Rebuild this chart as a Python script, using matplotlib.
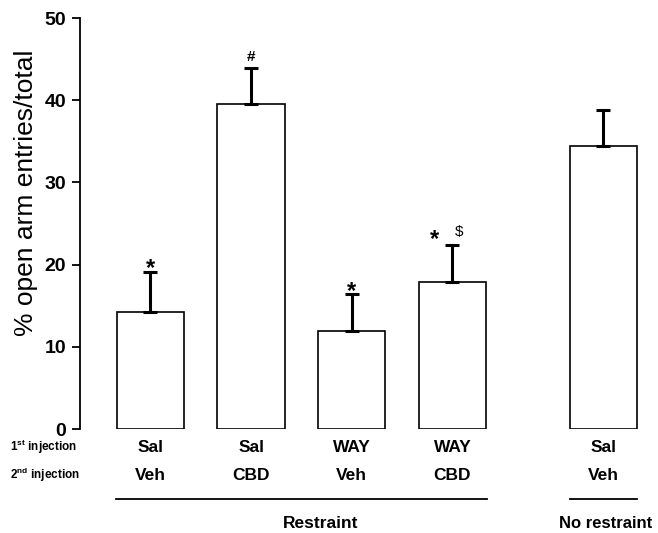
import numpy as np
from matplotlib import pyplot as plt
from matplotlib import transforms

plt.rcParams['font.family'] = ['Liberation Sans', 'DejaVu Sans']
plt.rcParams['mathtext.fontset'] = 'custom'
plt.rcParams['mathtext.rm'] = 'Liberation Sans'
plt.rcParams['mathtext.bf'] = 'Liberation Sans:bold'

# data
first_inj = ['Sal', 'Sal', 'WAY', 'WAY', 'Sal']
second_inj = ['Veh', 'CBD', 'Veh', 'CBD', 'Veh']
means = [14.2, 39.5, 11.9, 17.9, 34.5]
sem = [4.9, 4.4, 4.5, 4.5, 4.3]
marks = ['*', '#', '*', '*$', '']
positions = [0, 1, 2, 3, 4.5]

fig = plt.figure(figsize=(6.58, 5.33), dpi=100)
ax = fig.add_axes([0.1216, 0.195, 0.878, 0.771])

ax.bar(positions, means, width=0.67, color='white', edgecolor='black', linewidth=1.2)
ax.errorbar(positions, means, yerr=[np.zeros(len(sem)), sem], fmt='none',
            ecolor='black', elinewidth=2.2, capsize=4.7, capthick=2.2)

for x, m, s, mk in zip(positions, means, sem, marks):
    top = m + s
    if mk == '*':
        ax.annotate('*', (x, top), xytext=(0, -6), textcoords='offset points',
                    ha='center', va='bottom', fontsize=17, fontweight='bold')
    elif mk == '*$':
        ax.annotate('*', (x, top), xytext=(-13, -4), textcoords='offset points',
                    ha='center', va='bottom', fontsize=17, fontweight='bold')
        ax.annotate('$', (x, top), xytext=(5, 4), textcoords='offset points',
                    ha='center', va='bottom', fontsize=11)
    elif mk == '#':
        ax.annotate('#', (x, top), xytext=(0, 3), textcoords='offset points',
                    ha='center', va='bottom', fontsize=11, fontweight='bold')

ax.set_xlim(-0.70, 5.04)
ax.set_ylim(0, 50)
ax.set_yticks([0, 10, 20, 30, 40, 50])
for lab in ax.get_yticklabels():
    lab.set_fontweight('bold')
ax.tick_params(axis='y', labelsize=14, length=6, width=1.3, direction='out', pad=4)
ax.set_xticks([])
for sp in ['top', 'right', 'bottom']:
    ax.spines[sp].set_visible(False)
ax.spines['left'].set_linewidth(1.3)

fig.text(26 / 658, 1 - 193 / 533, '% open arm entries/total', rotation=90,
         ha='center', va='center', fontsize=19)

trans = transforms.blended_transform_factory(ax.transData, ax.transAxes)
for x, a, b in zip(positions, first_inj, second_inj):
    ax.text(x, -0.044, a, transform=trans, ha='center', va='center', fontsize=12.5, fontweight='bold')
    ax.text(x, -0.112, b, transform=trans, ha='center', va='center', fontsize=12.5, fontweight='bold')

fig.text(10 / 658, 1 - 447 / 533, r'1$^{\mathbf{st}}$ injection', ha='left', va='center',
         fontsize=8.5, fontweight='bold')
fig.text(10 / 658, 1 - 475 / 533, r'2$^{\mathbf{nd}}$ injection', ha='left', va='center',
         fontsize=8.5, fontweight='bold')

ax.plot([-0.34, 3.34], [-0.170, -0.170], transform=trans, color='black', lw=1.3, clip_on=False)
ax.plot([4.17, 4.83], [-0.170, -0.170], transform=trans, color='black', lw=1.3, clip_on=False)
ax.text(1.69, -0.229, 'Restraint', transform=trans, ha='center', va='center', fontsize=12.5, fontweight='bold')
ax.text(4.52, -0.229, 'No restraint', transform=trans, ha='center', va='center', fontsize=12, fontweight='bold')

fig.savefig('out.png', dpi=100)
